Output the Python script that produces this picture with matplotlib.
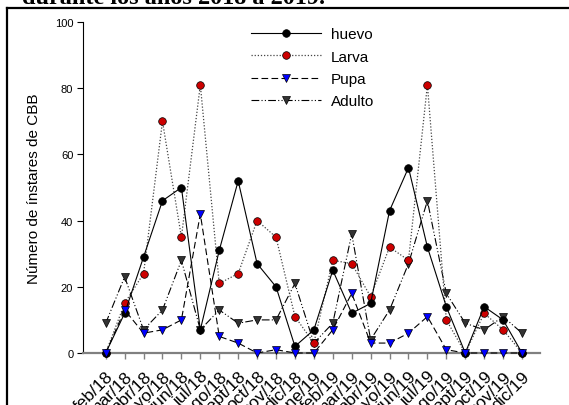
import numpy as np
import matplotlib
matplotlib.use('Agg')
from matplotlib import pyplot as plt

plt.rcParams['font.family'] = ['Liberation Sans', 'DejaVu Sans']

meses = ['feb/18', 'mar/18', 'abr/18', 'mayo/18', 'jun/18', 'jul/18', 'ago/18',
         'sept/18', 'oct/18', 'nov/18', 'dic/18', 'ene/19', 'feb/19', 'mar/19',
         'abr/19', 'mayo/19', 'jun/19', 'jul/19', 'ago/19', 'sept/19', 'oct/19',
         'nov/19', 'dic/19']
huevo = [0, 12, 29, 46, 50, 7, 31, 52, 27, 20, 2, 7, 25, 12, 15, 43, 56, 32, 14, 0, 14, 10, 0]
larva = [0, 15, 24, 70, 35, 81, 21, 24, 40, 35, 11, 3, 28, 27, 17, 32, 28, 81, 10, 0, 12, 7, 0]
pupa = [0, 13, 6, 7, 10, 42, 5, 3, 0, 1, 0, 0, 7, 18, 3, 3, 6, 11, 1, 0, 0, 0, 0]
adulto = [9, 23, 7, 13, 28, 7, 13, 9, 10, 10, 21, 3, 9, 36, 4, 13, 27, 46, 18, 9, 7, 11, 6]

x = np.arange(len(meses))

fig = plt.figure(figsize=(5.69, 4.06), dpi=100)
ax = fig.add_axes([83/569, 1-354/406, (540-83)/569, (354-23)/406])

ms = 5.5
ax.plot(x, adulto, color='black', lw=0.8, ls=(0, (7, 2, 1, 2, 1, 2)), marker='v',
        mfc='#333333', mec='black', mew=0.5, ms=ms, label='Adulto', clip_on=False, zorder=3)
ax.plot(x, pupa, color='black', lw=0.8, ls=(0, (6, 3)), marker='v',
        mfc='#0000ff', mec='black', mew=0.5, ms=ms, label='Pupa', clip_on=False, zorder=4)
ax.plot(x, larva, color='#444444', lw=0.9, ls=(0, (1, 1.5)), marker='o',
        mfc='#cc0000', mec='black', mew=0.5, ms=ms, label='Larva', clip_on=False, zorder=3)
ax.plot(x, huevo, color='black', lw=0.8, ls='-', marker='o',
        mfc='black', mec='black', mew=0.5, ms=ms, label='huevo', clip_on=False, zorder=3)

ax.set_xlim(-1.2, 22.95)
ax.set_ylim(0, 100)
ax.set_yticks([0, 20, 40, 60, 80, 100])
ax.set_xticks(x)
ax.set_xticklabels(meses, rotation=45, ha='right', va='top', rotation_mode='anchor', fontsize=12.5)
ax.tick_params(axis='y', direction='out', length=4, width=0.8, labelsize=8, pad=3)
ax.tick_params(axis='x', direction='out', length=4, width=1, color='#808080', pad=7)

for s in ['top', 'right']:
    ax.spines[s].set_visible(False)
ax.spines['left'].set_linewidth(0.8)
ax.spines['bottom'].set_color('#808080')
ax.spines['bottom'].set_linewidth(1.6)

ax.set_ylabel('Número de ínstares de CBB', fontsize=11, labelpad=10)

h, l = ax.get_legend_handles_labels()
order = [3, 2, 1, 0]
ax.legend([h[i] for i in order], [l[i] for i in order], loc='upper left',
          bbox_to_anchor=(245/569, 1-22/406), bbox_transform=fig.transFigure,
          frameon=False, fontsize=11, handlelength=4.6, labelspacing=0.55,
          handletextpad=0.6, borderaxespad=0)

# recuadro del documento
fig.add_artist(plt.Line2D([7/569, 7/569], [0, 1-9/406], color='black', lw=1.6))
fig.add_artist(plt.Line2D([7/569, 1], [1-9/406, 1-9/406], color='black', lw=1.6))
fig.text(22/569, 1-3.5/406, 'durante los años 2018 a 2019.', family='Liberation Serif',
         fontsize=17.5, weight='bold', va='baseline', ha='left')

plt.savefig('out.png', dpi=100)
